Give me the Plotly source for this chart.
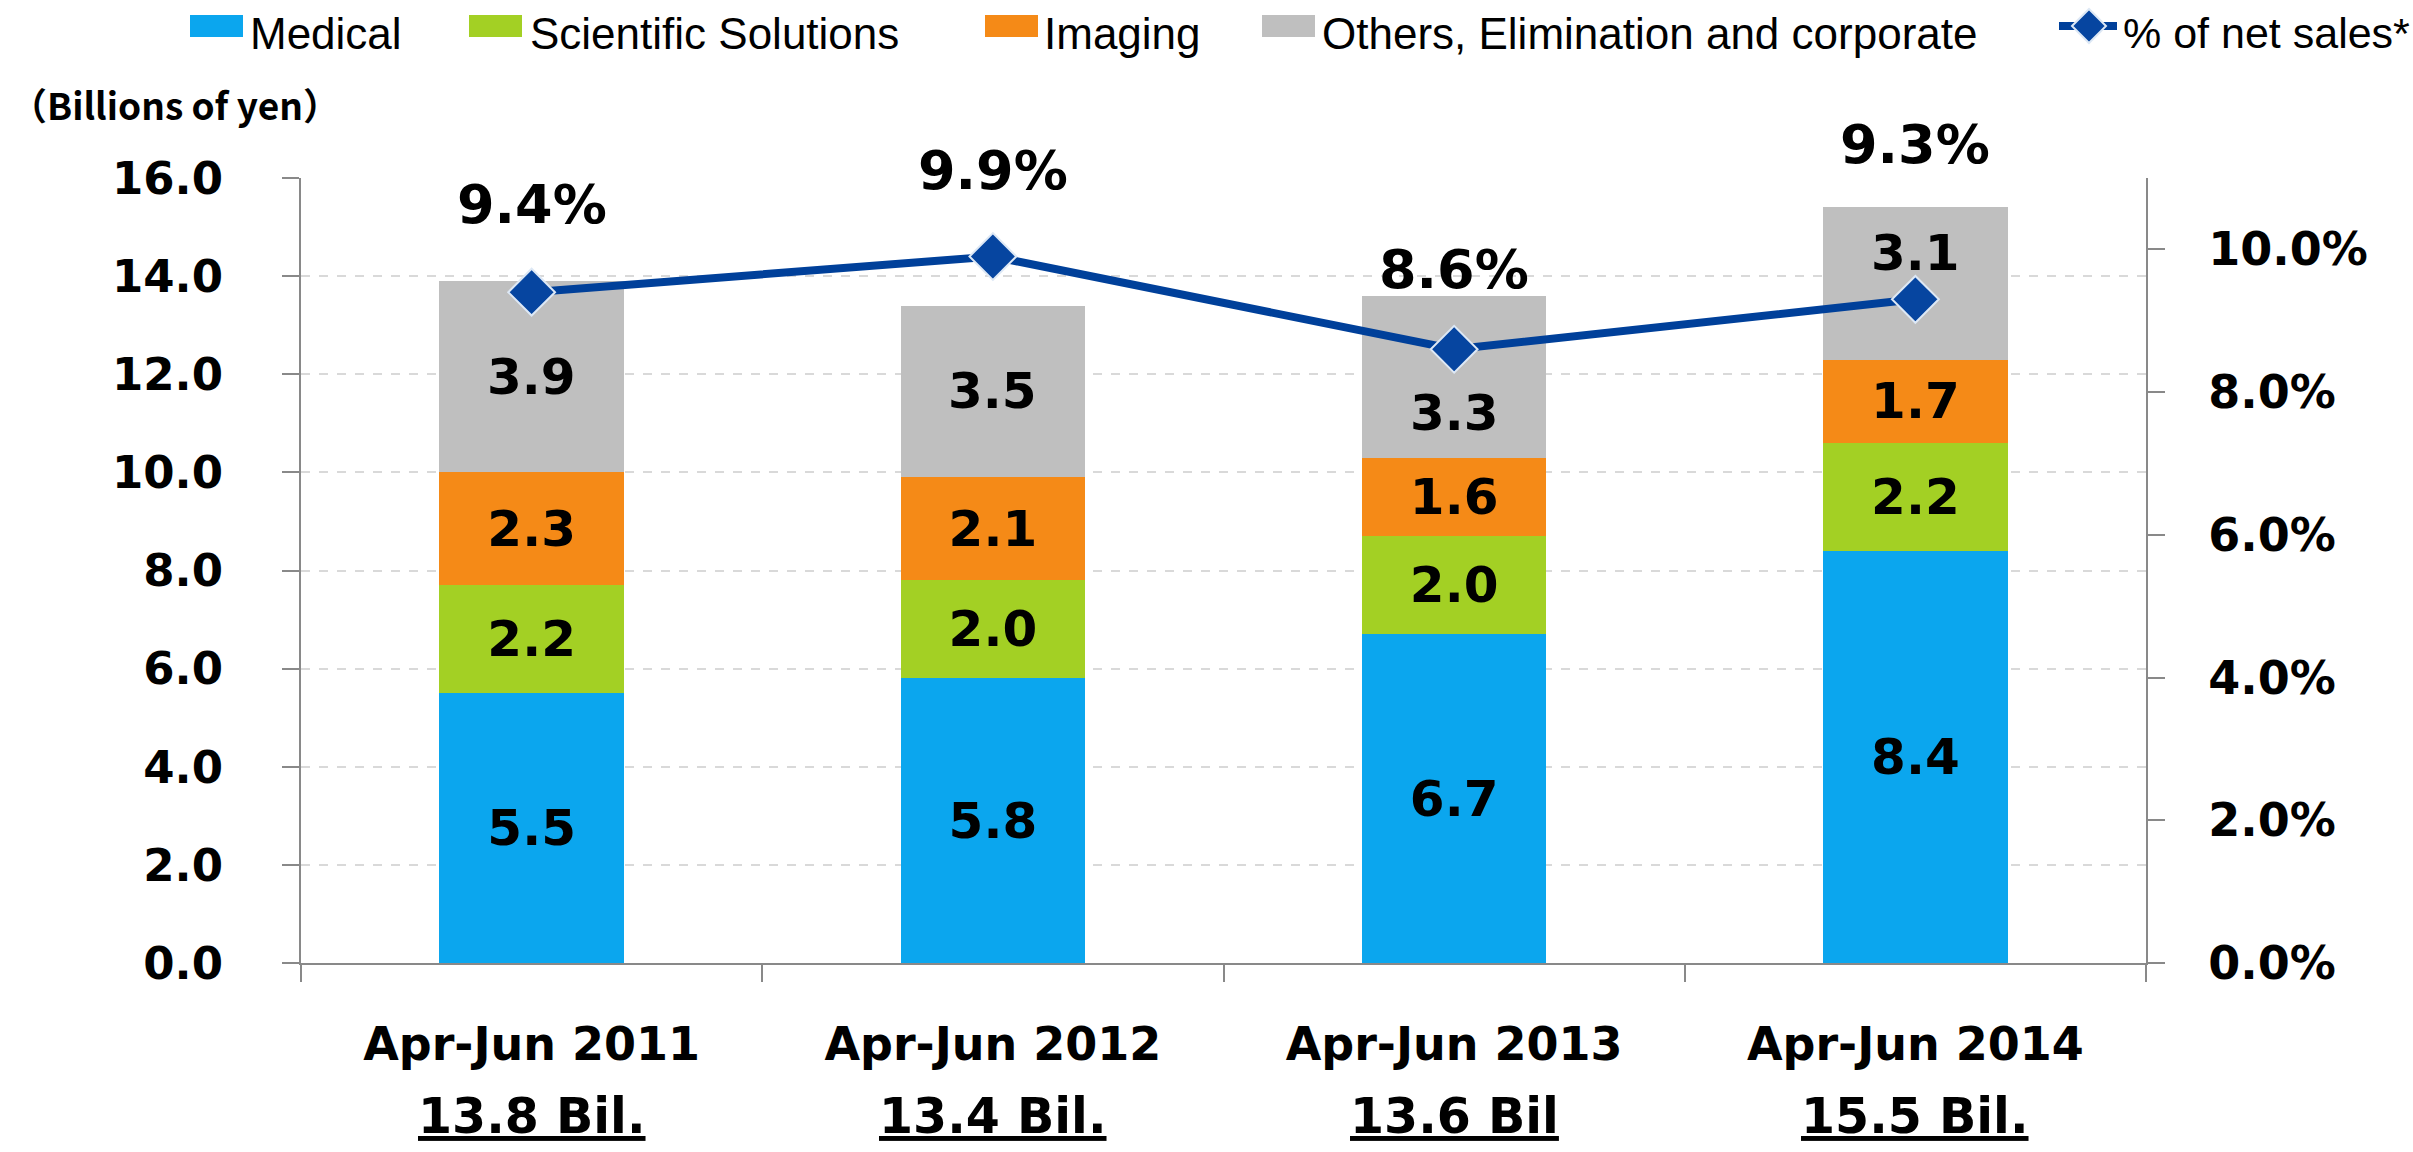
import plotly.graph_objects as go

# ---------------- data ----------------
categories = ["Apr-Jun 2011", "Apr-Jun 2012", "Apr-Jun 2013", "Apr-Jun 2014"]
medical = [5.5, 5.8, 6.7, 8.4]
scientific = [2.2, 2.0, 2.0, 2.2]
imaging = [2.3, 2.1, 1.6, 1.7]
others = [3.9, 3.5, 3.3, 3.1]
pct_net_sales = [0.094, 0.099, 0.086, 0.093]
total_labels = ["13.8 Bil.", "13.4 Bil.", "13.6 Bil", "15.5 Bil."]
series_names = ["Medical", "Scientific Solutions", "Imaging", "Others, Elimination and corporate"]
line_name = "% of net sales*"
unit_label = "（Billions of yen）"
y_ticks = [0, 2, 4, 6, 8, 10, 12, 14, 16]
y2_ticks = [0.0, 0.02, 0.04, 0.06, 0.08, 0.10]

# ---------------- styles / geometry ----------------
W, H = 2413, 1152
PL, PR, PT, PB = 301, 2146, 178, 963
colors = ["#0BA6EE", "#A3D024", "#F58A17", "#BFBFBF"]
line_color = "#00409A"
axis_color = "#898989"
BOLD = dict(family="DejaVu Sans", color="black", weight="bold")


def fx(px):
    return (px - PL) / (PR - PL)


def fy(py):
    return (PB - py) / (PB - PT)


fig = go.Figure()

stack = [medical, scientific, imaging, others]
for i, (name, vals, col) in enumerate(zip(series_names, stack, colors)):
    show_text = i < 3
    fig.add_trace(go.Bar(
        x=categories, y=vals, name=name,
        marker=dict(color=col, line=dict(width=0)),
        text=[f"{v:.1f}" for v in vals] if show_text else None,
        textposition="inside", insidetextanchor="middle", textangle=0,
        textfont=dict(size=50, **BOLD),
        showlegend=False,
    ))

fig.add_trace(go.Scatter(
    x=categories, y=pct_net_sales, yaxis="y2", name=line_name,
    mode="lines+markers",
    line=dict(color=line_color, width=8),
    marker=dict(symbol="diamond", size=36, color="#0645A0",
                line=dict(color="#DDE8F5", width=2)),
    cliponaxis=False, showlegend=False,
))

annotations = []
# percent labels
pct_shift = [88, 86, 80, 155]
for c, p, s in zip(categories, pct_net_sales, pct_shift):
    annotations.append(dict(x=c, y=p, xref="x", yref="y2", yshift=s,
                            text=f"{p*100:.1f}%", showarrow=False,
                            font=dict(size=54, **BOLD)))
# others labels (manually nudged in the original)
oth_shift = [0, 0, -36, 30]
for i, c in enumerate(categories):
    base = medical[i] + scientific[i] + imaging[i]
    annotations.append(dict(x=c, y=base + others[i] / 2, xref="x", yref="y",
                            yshift=oth_shift[i], text=f"{others[i]:.1f}",
                            showarrow=False, font=dict(size=50, **BOLD)))
# totals under categories
for c, t in zip(categories, total_labels):
    annotations.append(dict(x=c, y=fy(1116), xref="x", yref="paper",
                            text=t, showarrow=False, yanchor="middle",
                            font=dict(size=49, lineposition="under", **BOLD)))
# unit label
annotations.append(dict(x=fx(8), y=fy(104), xref="paper", yref="paper",
                        xanchor="left", yanchor="middle", text=unit_label,
                        showarrow=False,
                        font=dict(family="Noto Sans CJK JP", size=37,
                                  color="black", weight="bold")))

# manual legend
shapes = []
sw_left = [190, 469, 985, 1262]
tx_left = [248, 528, 1042, 1320]
for name, col, sl, tl in zip(series_names, colors, sw_left, tx_left):
    shapes.append(dict(type="rect", xref="paper", yref="paper",
                       x0=fx(sl), x1=fx(sl + 53), y0=fy(37), y1=fy(15),
                       fillcolor=col, line=dict(width=0)))
    annotations.append(dict(x=fx(tl), y=fy(33), xref="paper", yref="paper",
                            xanchor="left", yanchor="middle", text=name,
                            showarrow=False,
                            font=dict(family="Liberation Sans", size=44, color="black")))
shapes.append(dict(type="line", xref="paper", yref="paper",
                   x0=fx(2059), x1=fx(2117), y0=fy(26), y1=fy(26),
                   line=dict(color=line_color, width=8)))
cx, cy, r = 2089, 26, 17
shapes.append(dict(type="path", xref="paper", yref="paper",
                   path=(f"M{fx(cx-r)},{fy(cy)} L{fx(cx)},{fy(cy-r)} "
                         f"L{fx(cx+r)},{fy(cy)} L{fx(cx)},{fy(cy+r)} Z"),
                   fillcolor="#0645A0", line=dict(color="#DDE8F5", width=2)))
annotations.append(dict(x=fx(2121), y=fy(33), xref="paper", yref="paper",
                        xanchor="left", yanchor="middle", text=line_name,
                        showarrow=False,
                        font=dict(family="Liberation Sans", size=43, color="black")))

fig.update_layout(
    width=W, height=H, autosize=False,
    margin=dict(l=PL, r=W - PR, t=PT, b=H - PB, pad=0),
    paper_bgcolor="white", plot_bgcolor="white",
    barmode="stack", bargap=0.6,
    showlegend=False,
    annotations=annotations, shapes=shapes,
    xaxis=dict(type="category", showline=True, linecolor=axis_color, linewidth=2,
               ticks="outside", tickson="boundaries", ticklen=17, tickwidth=2,
               tickcolor=axis_color, showgrid=False, zeroline=False,
               tickfont=dict(size=46, **BOLD), ticklabelstandoff=40),
    yaxis=dict(range=[0, 16], tickvals=y_ticks, tickformat=".1f",
               showgrid=True, gridcolor="#D9D9D9", griddash="dash", gridwidth=1.5,
               showline=True, linecolor=axis_color, linewidth=2,
               ticks="outside", ticklen=17, tickwidth=2, tickcolor=axis_color,
               zeroline=False, tickfont=dict(size=45, **BOLD), ticklabelstandoff=50),
    yaxis2=dict(range=[0, 0.11], tickvals=y2_ticks, tickformat=".1%",
                overlaying="y", side="right", showgrid=False,
                showline=True, linecolor=axis_color, linewidth=2,
                ticks="outside", ticklen=17, tickwidth=2, tickcolor=axis_color,
                zeroline=False, tickfont=dict(size=46, **BOLD), ticklabelstandoff=34),
)

fig.write_html("out.html", config={"displayModeBar": False},
               post_script="document.body.style.margin='0';document.body.style.overflow='hidden';")
